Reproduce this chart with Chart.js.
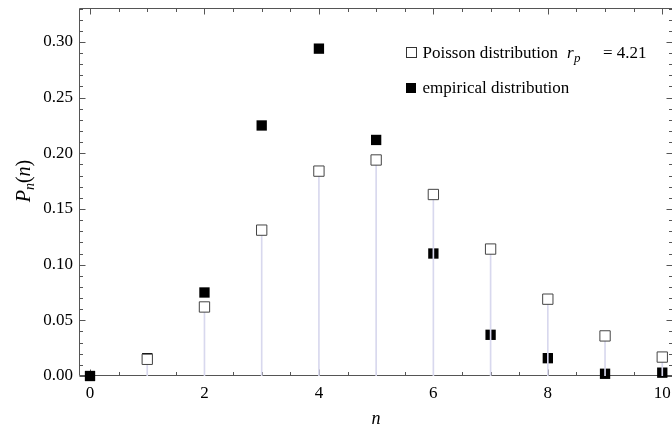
<!DOCTYPE html>
<html>
<head>
<meta charset="utf-8">
<script src="https://cdn.jsdelivr.net/npm/chart.js@4.4.1/dist/chart.umd.min.js"></script>
<style>
  html, body { margin: 0; padding: 0; background: #fff; overflow: hidden; }
  #wrap { width: 674px; height: 436px; }
</style>
</head>
<body>
<div id="wrap"><canvas id="chart" width="674" height="436"></canvas></div>
<script>
// values (no open square visible at n = 0)
const nValues = [0, 1, 2, 3, 4, 5, 6, 7, 8, 9, 10];
const poissonValues = [null, 0.015, 0.062, 0.131, 0.184, 0.194, 0.163, 0.114, 0.069, 0.036, 0.017];
const empiricalValues = [0.000, 0.016, 0.075, 0.225, 0.294, 0.212, 0.110, 0.037, 0.016, 0.002, 0.003];
const xTickValues = [0, 2, 4, 6, 8, 10];
const yTickValues = [0, 0.05, 0.10, 0.15, 0.20, 0.25, 0.30];

const SERIF = '"Liberation Serif", "Times New Roman", serif';
const FRAME = '#555';
const STEM = '#d8d8ee';

const toPoints = vals => nValues.map((n, i) => ({ x: n, y: vals[i] }));

// frame with inward ticks on all four sides (Mathematica style)
const framePlugin = {
  id: 'frame',
  beforeDatasetsDraw(chart) {
    const { ctx, chartArea: a, scales: { x, y } } = chart;
    const L = a.left - 0.5, R = a.right + 0.5, T = a.top + 0.5, B = a.bottom - 0.5;
    ctx.save();
    ctx.strokeStyle = FRAME;
    ctx.lineWidth = 1;
    ctx.beginPath();
    ctx.rect(L, T, R - L, B - T);
    // x ticks every 0.5, major on labelled values
    for (let k = 0; k <= 20; k++) {
      const v = k * 0.5;
      const px = Math.round(x.getPixelForValue(v)) + 0.5;
      const len = xTickValues.includes(v) ? 6 : 3.5;
      ctx.moveTo(px, B); ctx.lineTo(px, B - len);
      ctx.moveTo(px, T); ctx.lineTo(px, T + len);
    }
    // y ticks every 0.01, major every 0.05
    for (let k = 0; k <= 33; k++) {
      const v = k / 100;
      const py = Math.round(y.getPixelForValue(v)) + 0.5;
      const len = k % 5 === 0 ? 6 : 3.5;
      ctx.moveTo(L, py); ctx.lineTo(L + len, py);
      ctx.moveTo(R, py); ctx.lineTo(R - len, py);
    }
    ctx.stroke();
    ctx.restore();
  },
  afterDraw(chart) {
    const { ctx } = chart;
    ctx.save();
    ctx.fillStyle = '#000';
    ctx.textBaseline = 'alphabetic';

    // legend
    ctx.strokeStyle = '#333';
    ctx.lineWidth = 1;
    ctx.fillStyle = '#fff';
    ctx.fillRect(406.5, 47.5, 10, 10);
    ctx.strokeRect(406.5, 47.5, 10, 10);
    ctx.fillStyle = '#000';
    ctx.fillRect(406, 83, 10, 10);

    ctx.font = '17px ' + SERIF;
    ctx.fillText('Poisson distribution', 422.5, 58);
    ctx.font = 'italic 17px ' + SERIF;
    ctx.fillText('r', 567, 58);
    ctx.font = 'italic 13px ' + SERIF;
    ctx.fillText('p', 574, 62);
    ctx.font = '17px ' + SERIF;
    ctx.fillText('= 4.21', 603, 58);
    ctx.fillText('empirical distribution', 422.5, 93);

    // x title
    ctx.font = 'italic 18px ' + SERIF;
    ctx.textAlign = 'center';
    ctx.fillText('n', 376, 424);

    // y title P_n(n), rotated
    ctx.translate(30, 181);
    ctx.rotate(-Math.PI / 2);
    ctx.textAlign = 'left';
    const parts = [
      ['italic 20px ' + SERIF, 'P', 0],
      ['italic 14px ' + SERIF, 'n', 4],
      ['20px ' + SERIF, '(', 0],
      ['italic 20px ' + SERIF, 'n', 0],
      ['20px ' + SERIF, ')', 0]
    ];
    let w = 0;
    parts.forEach(p => { ctx.font = p[0]; w += ctx.measureText(p[1]).width; });
    let cx = -w / 2;
    parts.forEach(p => {
      ctx.font = p[0];
      ctx.fillText(p[1], cx, p[2]);
      cx += ctx.measureText(p[1]).width;
    });
    ctx.restore();
  }
};

new Chart(document.getElementById('chart'), {
  type: 'scatter',
  data: {
    datasets: [
      {
        label: 'Poisson distribution',
        data: toPoints(poissonValues),
        pointStyle: 'rect',
        pointRadius: 7.3,
        pointBackgroundColor: '#fff',
        pointBorderColor: '#444',
        pointBorderWidth: 1,
        clip: false,
        order: 1
      },
      {
        type: 'bar',
        label: 'stems',
        data: toPoints(poissonValues),
        backgroundColor: STEM,
        borderWidth: 0,
        barThickness: 1,
        order: 2
      },
      {
        label: 'empirical distribution',
        data: toPoints(empiricalValues),
        pointStyle: 'rect',
        pointRadius: 7.3,
        pointBackgroundColor: '#000',
        pointBorderColor: '#000',
        pointBorderWidth: 0,
        clip: false,
        order: 3
      }
    ]
  },
  options: {
    responsive: false,
    animation: false,
    layout: { autoPadding: false, padding: { top: 8, right: 2, left: 0, bottom: 0 } },
    plugins: { legend: { display: false }, tooltip: { enabled: false } },
    scales: {
      x: {
        type: 'linear',
        min: -0.175,
        max: 10.17,
        offset: false,
        afterFit: s => { s.height = 60; s.paddingLeft = 0; s.paddingRight = 0; },
        grid: { display: false, drawTicks: false },
        border: { display: false },
        ticks: {
          stepSize: 2,
          includeBounds: false,
          autoSkip: false,
          maxRotation: 0,
          padding: 7,
          color: '#000',
          font: { family: SERIF, size: 17 },
          callback: v => (xTickValues.includes(v) ? String(v) : '')
        }
      },
      y: {
        type: 'linear',
        min: 0,
        max: 0.3305,
        afterFit: s => { s.width = 80; s.paddingTop = 0; s.paddingBottom = 0; },
        grid: { display: false, drawTicks: false },
        border: { display: false },
        ticks: {
          stepSize: 0.05,
          includeBounds: false,
          padding: 7,
          color: '#000',
          font: { family: SERIF, size: 17 },
          callback: v => {
            const t = yTickValues.find(q => Math.abs(q - v) < 1e-9);
            return t === undefined ? '' : t.toFixed(2);
          }
        }
      }
    }
  },
  plugins: [framePlugin]
});
</script>
</body>
</html>
